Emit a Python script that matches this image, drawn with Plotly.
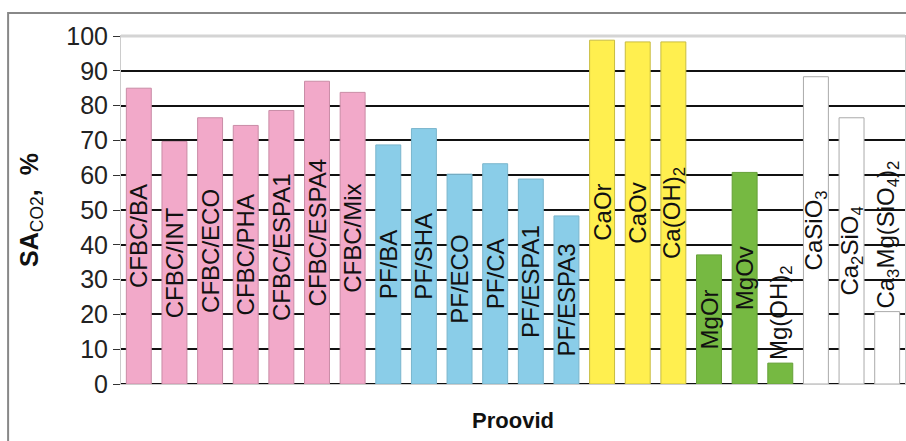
import plotly.graph_objects as go

categories = ["CFBC/BA", "CFBC/INT", "CFBC/ECO", "CFBC/PHA", "CFBC/ESPA1", "CFBC/ESPA4", "CFBC/Mix",
              "PF/BA", "PF/SHA", "PF/ECO", "PF/CA", "PF/ESPA1", "PF/ESPA3",
              "CaOr", "CaOv", "Ca(OH)<sub>2</sub>",
              "MgOr", "MgOv", "Mg(OH)<sub>2</sub>",
              "CaSiO<sub>3</sub>", "Ca<sub>2</sub>SiO<sub>4</sub>", "Ca<sub>3</sub>Mg(SiO<sub>4</sub>)<sub>2</sub>"]
values = [85.0, 69.7, 76.5, 74.3, 78.6, 87.0, 83.8,
          68.7, 73.4, 60.3, 63.3, 58.9, 48.3,
          98.8, 98.3, 98.3,
          37.1, 60.8, 6.0,
          88.3, 76.5, 20.8]
groups = ["CFBC"] * 7 + ["PF"] * 6 + ["Ca"] * 3 + ["Mg"] * 3 + ["Si"] * 3
y_ticks = [0, 10, 20, 30, 40, 50, 60, 70, 80, 90, 100]

fill = {"CFBC": "#F2A9C9", "PF": "#8ACDE8", "Ca": "#FFEF4F", "Mg": "#76B942", "Si": "#FFFFFF"}
edge = {"CFBC": "#C98CA6", "PF": "#7AB5CC", "Ca": "#C8BC40", "Mg": "#66A038", "Si": "#AAAAAA"}

positions = ["outside" if v < 25 else "inside" for v in values]
xidx = list(range(len(categories)))

FONT = "Liberation Sans, Arial"

fig = go.Figure(go.Bar(
    x=xidx, y=values,
    marker=dict(color=[fill[g] for g in groups],
                line=dict(color=[edge[g] for g in groups], width=1)),
    text=categories,
    textposition=positions,
    textangle=-90,
    insidetextanchor="middle",
    constraintext="none",
    cliponaxis=False,
    textfont=dict(family=FONT, size=24, color="#111111"),
    hoverinfo="skip",
))

fig.update_layout(
    width=906, height=441,
    margin=dict(l=121, r=1, t=36, b=57),
    paper_bgcolor="white", plot_bgcolor="white",
    bargap=0.3,
    showlegend=False,
    uniformtext=dict(minsize=24, mode="show"),
    font=dict(family=FONT, color="#111111"),
    xaxis=dict(
        range=[-0.5, len(categories) - 0.5],
        showticklabels=False, ticks="", showgrid=False,
        showline=True, linecolor="#CCCCCC", linewidth=1, mirror=True,
        zeroline=False,
        title=dict(text="<b>Proovid</b>", font=dict(family=FONT, size=22, color="#111111"), standoff=28),
    ),
    yaxis=dict(
        range=[0, 100], tickvals=y_ticks,
        tickfont=dict(family=FONT, size=25, color="#222222"),
        ticks="outside", ticklen=7, tickcolor="#333333", tickwidth=1,
        showgrid=True, gridcolor="#111111", gridwidth=2,
        showline=True, linecolor="#CCCCCC", linewidth=1, mirror=True,
        zeroline=True, zerolinecolor="#111111", zerolinewidth=2,
        title=dict(text="<b>SA</b><sub>CO2</sub><b>,  %</b>",
                   font=dict(family=FONT, size=25, color="#111111"), standoff=20),
    ),
    shapes=[
        dict(type="rect", xref="paper", yref="paper",
             x0=-0.144, x1=1.02, y0=-0.2, y1=1.066,
             line=dict(color="#888888", width=2), layer="below"),
        dict(type="line", xref="paper", yref="paper",
             x0=0, x1=1, y0=1, y1=1,
             line=dict(color="#D4D4D4", width=3), layer="above"),
    ],
)

fig.write_html("out.html", config={"displayModeBar": False},
               post_script="document.body.style.margin='0';document.body.style.overflow='hidden';")
